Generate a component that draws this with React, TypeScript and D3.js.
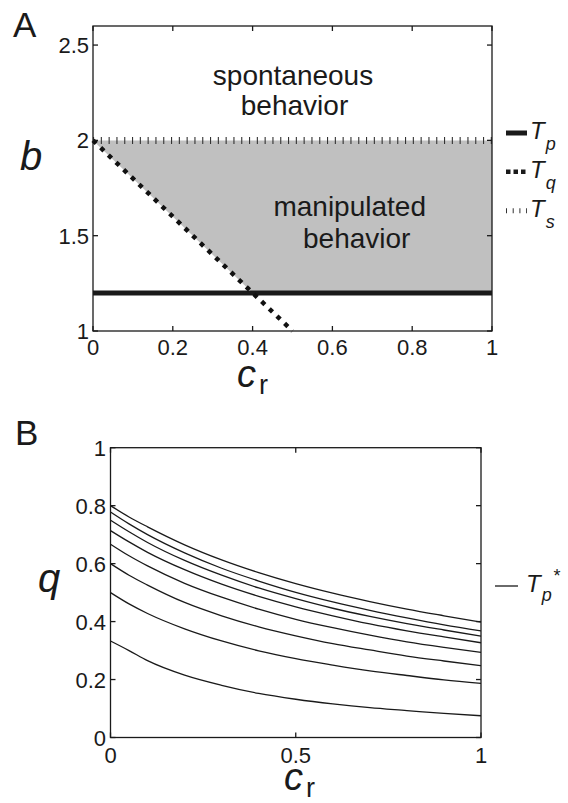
import React from "react";
import * as d3 from "d3";

// panel A values
const bTicks = [1, 1.5, 2, 2.5];
const crTicksA = [0, 0.2, 0.4, 0.6, 0.8, 1];
const tpLevel = 1.2;
const tsLevel = 2;
const tqCr = [0, 0.5];
const tqB = [2, 1];
const manipCr = [0, 0.4, 1, 1];
const manipB = [2, 1.2, 1.2, 2];

// panel B values (q against c_r, one curve per b)
const qTicks = [0, 0.2, 0.4, 0.6, 0.8, 1];
const crTicksB = [0, 0.5, 1];
const crSamples = [0, 0.05, 0.1, 0.2, 0.3, 0.4, 0.5, 0.6, 0.7, 0.8, 0.9, 1];
const qCurve1 = [0.8, 0.761, 0.727, 0.665, 0.613, 0.569, 0.531, 0.498, 0.469, 0.443, 0.42, 0.398];
const qCurve2 = [0.778, 0.737, 0.7, 0.637, 0.584, 0.54, 0.501, 0.468, 0.439, 0.413, 0.389, 0.368];
const qCurve3 = [0.75, 0.71, 0.673, 0.611, 0.56, 0.516, 0.479, 0.446, 0.418, 0.393, 0.371, 0.35];
const qCurve4 = [0.714, 0.675, 0.639, 0.579, 0.529, 0.487, 0.451, 0.42, 0.392, 0.368, 0.347, 0.327];
const qCurve5 = [0.667, 0.627, 0.592, 0.532, 0.484, 0.443, 0.408, 0.379, 0.353, 0.33, 0.311, 0.294];
const qCurve6 = [0.6, 0.56, 0.526, 0.466, 0.42, 0.382, 0.351, 0.324, 0.302, 0.281, 0.264, 0.248];
const qCurve7 = [0.5, 0.461, 0.428, 0.375, 0.333, 0.299, 0.272, 0.25, 0.23, 0.214, 0.199, 0.187];
const qCurve8 = [0.333, 0.3, 0.265, 0.215, 0.18, 0.152, 0.132, 0.116, 0.103, 0.093, 0.083, 0.075];
const qCurves = [qCurve1, qCurve2, qCurve3, qCurve4, qCurve5, qCurve6, qCurve7, qCurve8];

const font = "'Liberation Sans', Arial, Helvetica, sans-serif";
const ink = "#1a1a1a";

const TickBox = ({ x, y, xTicks, yTicks, tickLen = 5 }) => {
  const [x0, x1] = x.range();
  const [y0, y1] = y.range();
  return (
    <g stroke={ink} strokeWidth={1.3} fill="none">
      <rect x={x0} y={y1} width={x1 - x0} height={y0 - y1} />
      {xTicks.map(t => (
        <g key={"x" + t}>
          <line x1={x(t)} x2={x(t)} y1={y0} y2={y0 - tickLen} />
          <line x1={x(t)} x2={x(t)} y1={y1} y2={y1 + tickLen} />
        </g>
      ))}
      {yTicks.map(t => (
        <g key={"y" + t}>
          <line x1={x0} x2={x0 + tickLen} y1={y(t)} y2={y(t)} />
          <line x1={x1} x2={x1 - tickLen} y1={y(t)} y2={y(t)} />
        </g>
      ))}
    </g>
  );
};

export default function App() {
  // panel A scales
  const xA = d3.scaleLinear().domain([0, 1]).range([93, 492]);
  const yA = d3.scaleLinear().domain([1, 2.6]).range([331, 26]);
  // panel B scales
  const xB = d3.scaleLinear().domain([0, 1]).range([110.5, 481]);
  const yB = d3.scaleLinear().domain([0, 1]).range([737.5, 447.7]);

  const lineA = d3.line<[number, number]>().x(d => xA(d[0])).y(d => yA(d[1]));
  const region = manipCr.map((c, i) => [c, manipB[i]] as [number, number]);
  const tq = tqCr.map((c, i) => [c, tqB[i]] as [number, number]);

  const lineB = d3
    .line<number>()
    .x((d, i) => xB(crSamples[i]))
    .y(d => yB(d))
    .curve(d3.curveMonotoneX);

  return (
    <svg
      width={568}
      height={803}
      style={{ position: "absolute", left: 0, top: 0, background: "#fff" }}
      fontFamily={font}
    >
      {/* ---------- panel A ---------- */}
      <text x={13} y={37} fontSize={35} fill={ink}>A</text>
      <path d={lineA(region) + "Z"} fill="#c0c0c0" stroke="none" />
      <line
        x1={xA(0)} x2={xA(1)} y1={yA(tsLevel)} y2={yA(tsLevel)}
        stroke="#333" strokeWidth={7} strokeDasharray="1.1 6.7"
      />
      <line
        x1={xA(0)} x2={xA(1)} y1={yA(tpLevel)} y2={yA(tpLevel)}
        stroke={ink} strokeWidth={5}
      />
      <path d={lineA(tq)} stroke="#111" strokeWidth={4.5} strokeDasharray="4.5 6.1" fill="none" />
      <TickBox x={xA} y={yA} xTicks={crTicksA} yTicks={bTicks} />
      {bTicks.map(t => (
        <text key={t} x={89} y={yA(t) + 8} fontSize={22} textAnchor="end" fill={ink}>{t}</text>
      ))}
      {crTicksA.map(t => (
        <text key={t} x={xA(t)} y={355} fontSize={22} textAnchor="middle" fill={ink}>{t}</text>
      ))}
      <text x={20} y={170} fontSize={40} fontStyle="italic" fill={ink}>b</text>
      <text x={237} y={387} fontSize={38} fontStyle="italic" fill={ink}>c</text>
      <text x={259} y={394} fontSize={27} fill={ink}>r</text>

      <text x={293} y={85} fontSize={28} textAnchor="middle" fill={ink}>spontaneous</text>
      <text x={294.5} y={115} fontSize={28} textAnchor="middle" fill={ink}>behavior</text>
      <text x={349.7} y={216} fontSize={28} textAnchor="middle" fill={ink}>manipulated</text>
      <text x={356.7} y={248} fontSize={28} textAnchor="middle" fill={ink}>behavior</text>

      {/* legend A */}
      <line x1={506} x2={527} y1={133} y2={133} stroke={ink} strokeWidth={5} />
      <line x1={506} x2={527} y1={171.7} y2={171.7} stroke={ink} strokeWidth={4.5} strokeDasharray="4.5 3" />
      <line x1={506} x2={527} y1={210.7} y2={210.7} stroke="#333" strokeWidth={5} strokeDasharray="1 5.7" />
      {[["p", 133], ["q", 171.7], ["s", 210.7]].map(([s, y]) => (
        <text key={s} x={530} y={+y + 6} fontSize={24} fontStyle="italic" fill={ink}>
          T<tspan fontSize={18} dx={1} dy={11}>{s}</tspan>
        </text>
      ))}

      {/* ---------- panel B ---------- */}
      <text x={15} y={445} fontSize={35} fill={ink}>B</text>
      {qCurves.map((q, i) => (
        <path key={i} d={lineB(q)} fill="none" stroke={ink} strokeWidth={1.3} />
      ))}
      <TickBox x={xB} y={yB} xTicks={crTicksB} yTicks={qTicks} />
      {qTicks.map(t => (
        <text key={t} x={106} y={yB(t) + 8} fontSize={22} textAnchor="end" fill={ink}>{t}</text>
      ))}
      {crTicksB.map(t => (
        <text key={t} x={xB(t)} y={763} fontSize={22} textAnchor="middle" fill={ink}>{t}</text>
      ))}
      <text x={38} y={592} fontSize={40} fontStyle="italic" fill={ink}>q</text>
      <text x={284} y={790} fontSize={38} fontStyle="italic" fill={ink}>c</text>
      <text x={306} y={797} fontSize={27} fill={ink}>r</text>

      {/* legend B */}
      <line x1={495} x2={518} y1={586} y2={586} stroke={ink} strokeWidth={1.3} />
      <text x={526} y={592} fontSize={24} fontStyle="italic" fill={ink}>
        T<tspan fontSize={18} dx={1} dy={9}>p</tspan>
        <tspan fontSize={18} dx={1} dy={-19}>*</tspan>
      </text>
    </svg>
  );
}
